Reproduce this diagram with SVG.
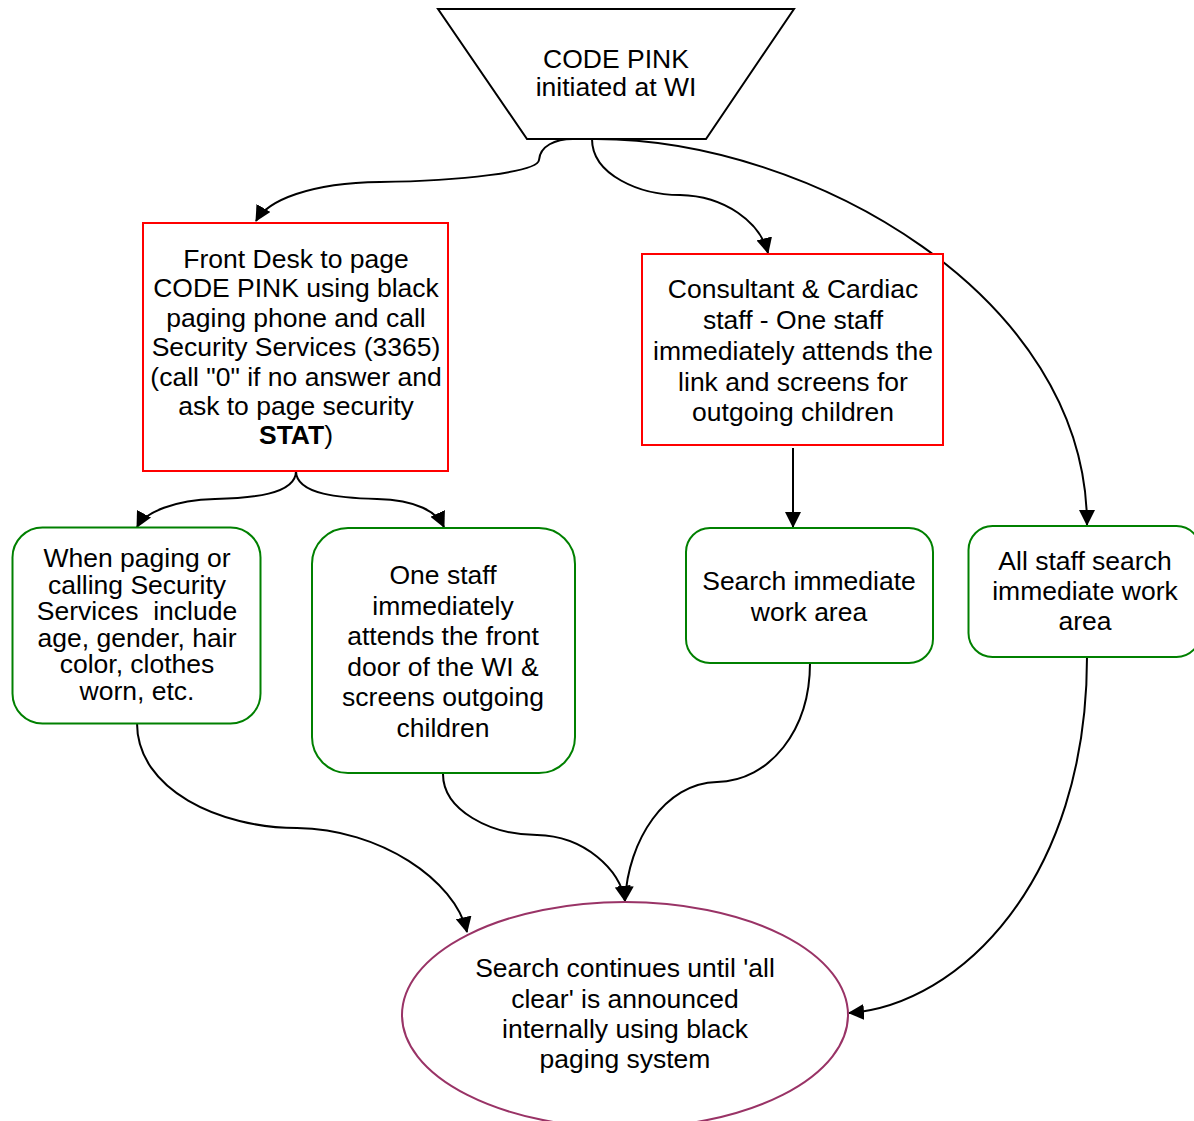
<svg xmlns="http://www.w3.org/2000/svg" width="1194" height="1121" viewBox="0 0 1194 1121">
  <style>
    text { font-family: "Liberation Sans", Arial, sans-serif; font-size: 26.5px; fill: #000; text-anchor: middle; }
    .start { fill: #fff; stroke: #000; stroke-width: 2; }
    .task { fill: #fff; stroke: #ff0000; stroke-width: 2; }
    .step { fill: #fff; stroke: #008000; stroke-width: 2; }
    .end { fill: #fff; stroke: #993366; stroke-width: 2; }
    .edge { fill: none; stroke: #000; stroke-width: 2; marker-end: url(#arrow); }
  </style>
  <defs>
    <marker id="arrow" viewBox="0 0 16 16" refX="15" refY="8" markerWidth="16" markerHeight="16" markerUnits="userSpaceOnUse" orient="auto">
      <path d="M0,0 L16,8 L0,16 Z" fill="#000"/>
    </marker>
  </defs>

  <rect width="1194" height="1121" fill="#fff"/>

  <!-- connectors -->
  <g id="connectors">
    <path class="edge" d="M573,139 C555,139 540,146 539,160 C538,172 460,181 380,182 C310,183 268,200 256,221"/>
    <path class="edge" d="M592,139 C592,175 640,195 680,195 C725,196 760,222 768,253"/>
    <path class="edge" d="M596,139 C810,139 1087,296 1087,525"/>
    <path class="edge" d="M296,471 C296,495 250,498 215,499 C175,500 145,512 137,527"/>
    <path class="edge" d="M296,471 C296,495 342,498 377,499 C417,500 437,512 444,527"/>
    <path class="edge" d="M793,448 L793,527"/>
    <path class="edge" d="M137,723 C137,790 220,828 297,828 C380,829 455,880 467,932"/>
    <path class="edge" d="M443,774 C443,810 490,835 537,835 C585,836 620,870 625,901"/>
    <path class="edge" d="M810,663 C810,730 770,781 717,782 C665,783 628,840 625,901"/>
    <path class="edge" d="M1087,657 C1087,880 960,1005 849,1013"/>
  </g>

  <!-- start: manual operation trapezoid -->
  <g id="code-pink">
    <polygon class="start" points="438,9 794,9 706,139 527,139"/>
    <text x="616" y="68">CODE PINK</text>
    <text x="616" y="96">initiated at WI</text>
  </g>

  <g id="front-desk">
    <rect class="task" x="143" y="223" width="305" height="248"/>
    <text x="296" y="268">Front Desk to page</text>
    <text x="296" y="297.4">CODE PINK using black</text>
    <text x="296" y="326.8">paging phone and call</text>
    <text x="296" y="356.2">Security Services (3365)</text>
    <text x="296" y="385.6">(call "0" if no answer and</text>
    <text x="296" y="415">ask to page security</text>
    <text x="296" y="444.4"><tspan font-weight="bold">STAT</tspan>)</text>
  </g>

  <g id="consultant">
    <rect class="task" x="642" y="254" width="301" height="191"/>
    <text x="793" y="298">Consultant &amp; Cardiac</text>
    <text x="793" y="329">staff - One staff</text>
    <text x="793" y="360">immediately attends the</text>
    <text x="793" y="391">link and screens for</text>
    <text x="793" y="421">outgoing children</text>
  </g>

  <g id="describe-child">
    <rect class="step" x="12.5" y="527.5" width="248" height="196" rx="30" ry="30"/>
    <text x="137" y="567">When paging or</text>
    <text x="137" y="593.6">calling Security</text>
    <text x="137" y="620.2" xml:space="preserve">Services  include</text>
    <text x="137" y="646.8">age, gender, hair</text>
    <text x="137" y="673.4">color, clothes</text>
    <text x="137" y="700">worn, etc.</text>
  </g>

  <g id="front-door">
    <rect class="step" x="312" y="528" width="263" height="245" rx="36" ry="36"/>
    <text x="443" y="584">One staff</text>
    <text x="443" y="614.6">immediately</text>
    <text x="443" y="645.2">attends the front</text>
    <text x="443" y="675.8">door of the WI &amp;</text>
    <text x="443" y="706.4">screens outgoing</text>
    <text x="443" y="737">children</text>
  </g>

  <g id="search-area">
    <rect class="step" x="686" y="528" width="247" height="135" rx="24" ry="24"/>
    <text x="809" y="590">Search immediate</text>
    <text x="809" y="621">work area</text>
  </g>

  <g id="all-staff">
    <rect class="step" x="968.5" y="526" width="232" height="131" rx="24" ry="24"/>
    <text x="1085" y="570">All staff search</text>
    <text x="1085" y="600">immediate work</text>
    <text x="1085" y="630">area</text>
  </g>

  <g id="all-clear">
    <ellipse class="end" cx="625" cy="1015" rx="223" ry="113"/>
    <text x="625" y="977">Search continues until 'all</text>
    <text x="625" y="1007.5">clear' is announced</text>
    <text x="625" y="1038">internally using black</text>
    <text x="625" y="1068">paging system</text>
  </g>
</svg>
